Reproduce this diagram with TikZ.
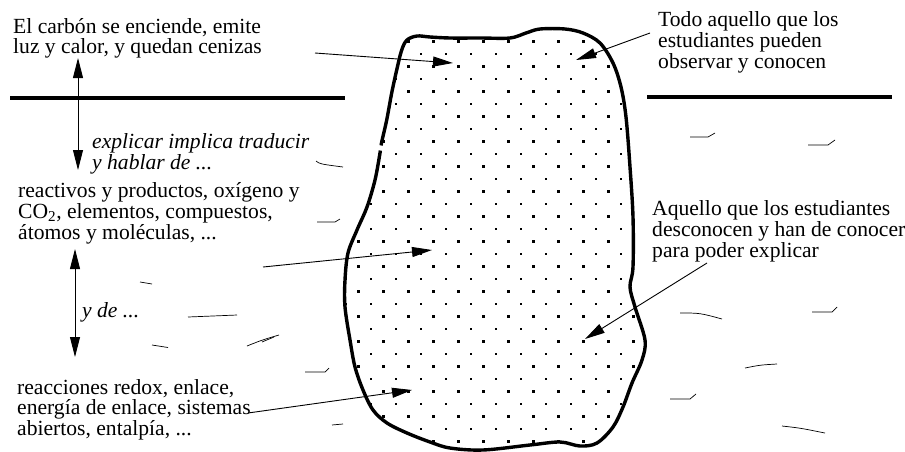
\documentclass[tikz,border=0pt]{standalone}
\usepackage{fontspec}
\setmainfont{Liberation Serif}
\usetikzlibrary{arrows.meta}
\newcommand{\body}{\fontsize{21.6}{19.5}\selectfont}
\tikzset{
  lbl/.style={anchor=base west,inner sep=0pt,align=left,font=\body},
  pointer/.style={-{Triangle[length=20pt,width=10pt]},line width=.9pt},
  twoway/.style={{Triangle[length=20pt,width=10pt]}-{Triangle[length=20pt,width=10pt]},line width=.9pt},
  shore/.style={line width=3.6pt},
  ripple/.style={line width=.7pt}
}

\begin{document}
\begin{tikzpicture}[x=1pt,y=-1pt]
\useasboundingbox (0,0) rectangle (905,451);
\path[save path=\blobpath] plot[smooth cycle,tension=.55] coordinates{(381.5,143) (386.7,120) (391.7,93) (396.7,70) (401.7,50) (407,40) (417,36) (430,37) (450,38) (480,38) (510,38) (526,33) (540,29) (565,29) (583,33) (600,43) (613,63) (621,87) (626,117) (630,167) (633,217) (633,267) (630,287) (635,307) (645,340) (642,360) (632,383) (623,407) (613,427) (597,443) (580,446) (560,442) (530,445) (483,450) (450,448) (430,442) (407,433) (387,423) (373,410) (363,390) (355,367) (350,340) (345,307) (345,280) (348,253) (357,230) (367,207) (375,180) (380,153)};
\begin{scope}
\clip[use path=\blobpath];
\foreach \r in {0,...,16}{\foreach \c in {0,...,11}{\fill[shift={(358.3+25*\c,41.7+25*\r)}] (-1.5,-1.5) rectangle (1.5,1.5);}}
\foreach \r in {0,...,17}{\foreach \c in {0,...,12}{\fill[shift={(346+25*\c,29.2+25*\r)}] (-1,-1) rectangle (1,1);}}
\end{scope}
\draw[line width=3.4pt,use path=\blobpath];
\draw[white,line width=5pt] (381.2,145.5)--(380.4,150.5);
\draw[shore] (10,98)--(345,98);\draw[shore] (647,97)--(892,97);
\node[lbl] (fact) at (13,53){El carbón se enciende, emite\\luz y calor, y quedan cenizas};
\node[lbl,font=\body\itshape] (talk) at (92,169){explicar implica traducir\\y hablar de ...};
\node[lbl] (words) at (18,239){reactivos y productos, oxígeno y\\CO\textsubscript{2}, elementos, compuestos,\\átomos y moléculas, ...};
\node[lbl,font=\body\itshape] (more) at (82,317){y de ...};
\node[lbl] (theory) at (17,435){reacciones redox, enlace,\\energía de enlace, sistemas\\abiertos, entalpía, ...};
\node[lbl] (seen) at (658,68){Todo aquello que los\\estudiantes pueden\\observar y conocen};
\node[lbl] (unseen) at (652,257){Aquello que los estudiantes\\desconocen y han de conocer\\para poder explicar};
\coordinate (up1) at (78,58);\coordinate (dn1) at (78,170);
\coordinate (up2) at (75,249);\coordinate (dn2) at (75,357);
\draw[twoway] (up1)--(dn1);\draw[twoway] (up2)--(dn2);
\coordinate (fact-out) at (315,53);\coordinate (fact-in) at (453,63);
\coordinate (seen-out) at (650,33);\coordinate (seen-in) at (576,60);
\coordinate (words-out) at (263,267);\coordinate (words-in) at (432,250);
\coordinate (theory-out) at (248,413);\coordinate (theory-in) at (412,390);
\coordinate (unseen-out) at (707,263);\coordinate (unseen-in) at (585,339);
\draw[pointer] (fact-out)--(fact-in);\draw[pointer] (seen-out)--(seen-in);
\draw[pointer] (words-out)--(words-in);\draw[pointer] (theory-out)--(theory-in);
\draw[pointer] (unseen-out)--(unseen-in);
\draw[ripple] (316,161) .. controls (320,164) .. (343,167);
\draw[ripple] (317,222)--(335,222)--(340,219);
\draw[ripple] (140,282)--(152,284);
\draw[ripple] (188,317)--(237,315);
\draw[ripple] (152,345)--(168,347.5);
\draw[ripple] (247,346) .. controls (262,340) .. (279,335);\draw[ripple] (262,342)--(274,337);
\draw[ripple] (305,372)--(325,372)--(329,368);
\draw[ripple] (332,425)--(343,424);
\draw[ripple] (690,137)--(708,137)--(715,133);
\draw[ripple] (808,145)--(828,145)--(835,140);
\draw[ripple] (680,313) .. controls (700,313) .. (722,319);
\draw[ripple] (812,312)--(832,312)--(837,307);
\draw[ripple] (745,368) .. controls (760,365) .. (777,364);
\draw[ripple] (670,399)--(690,399)--(696,394);
\draw[ripple] (782,426) .. controls (800,428) .. (825,433);
\end{tikzpicture}
\end{document}
